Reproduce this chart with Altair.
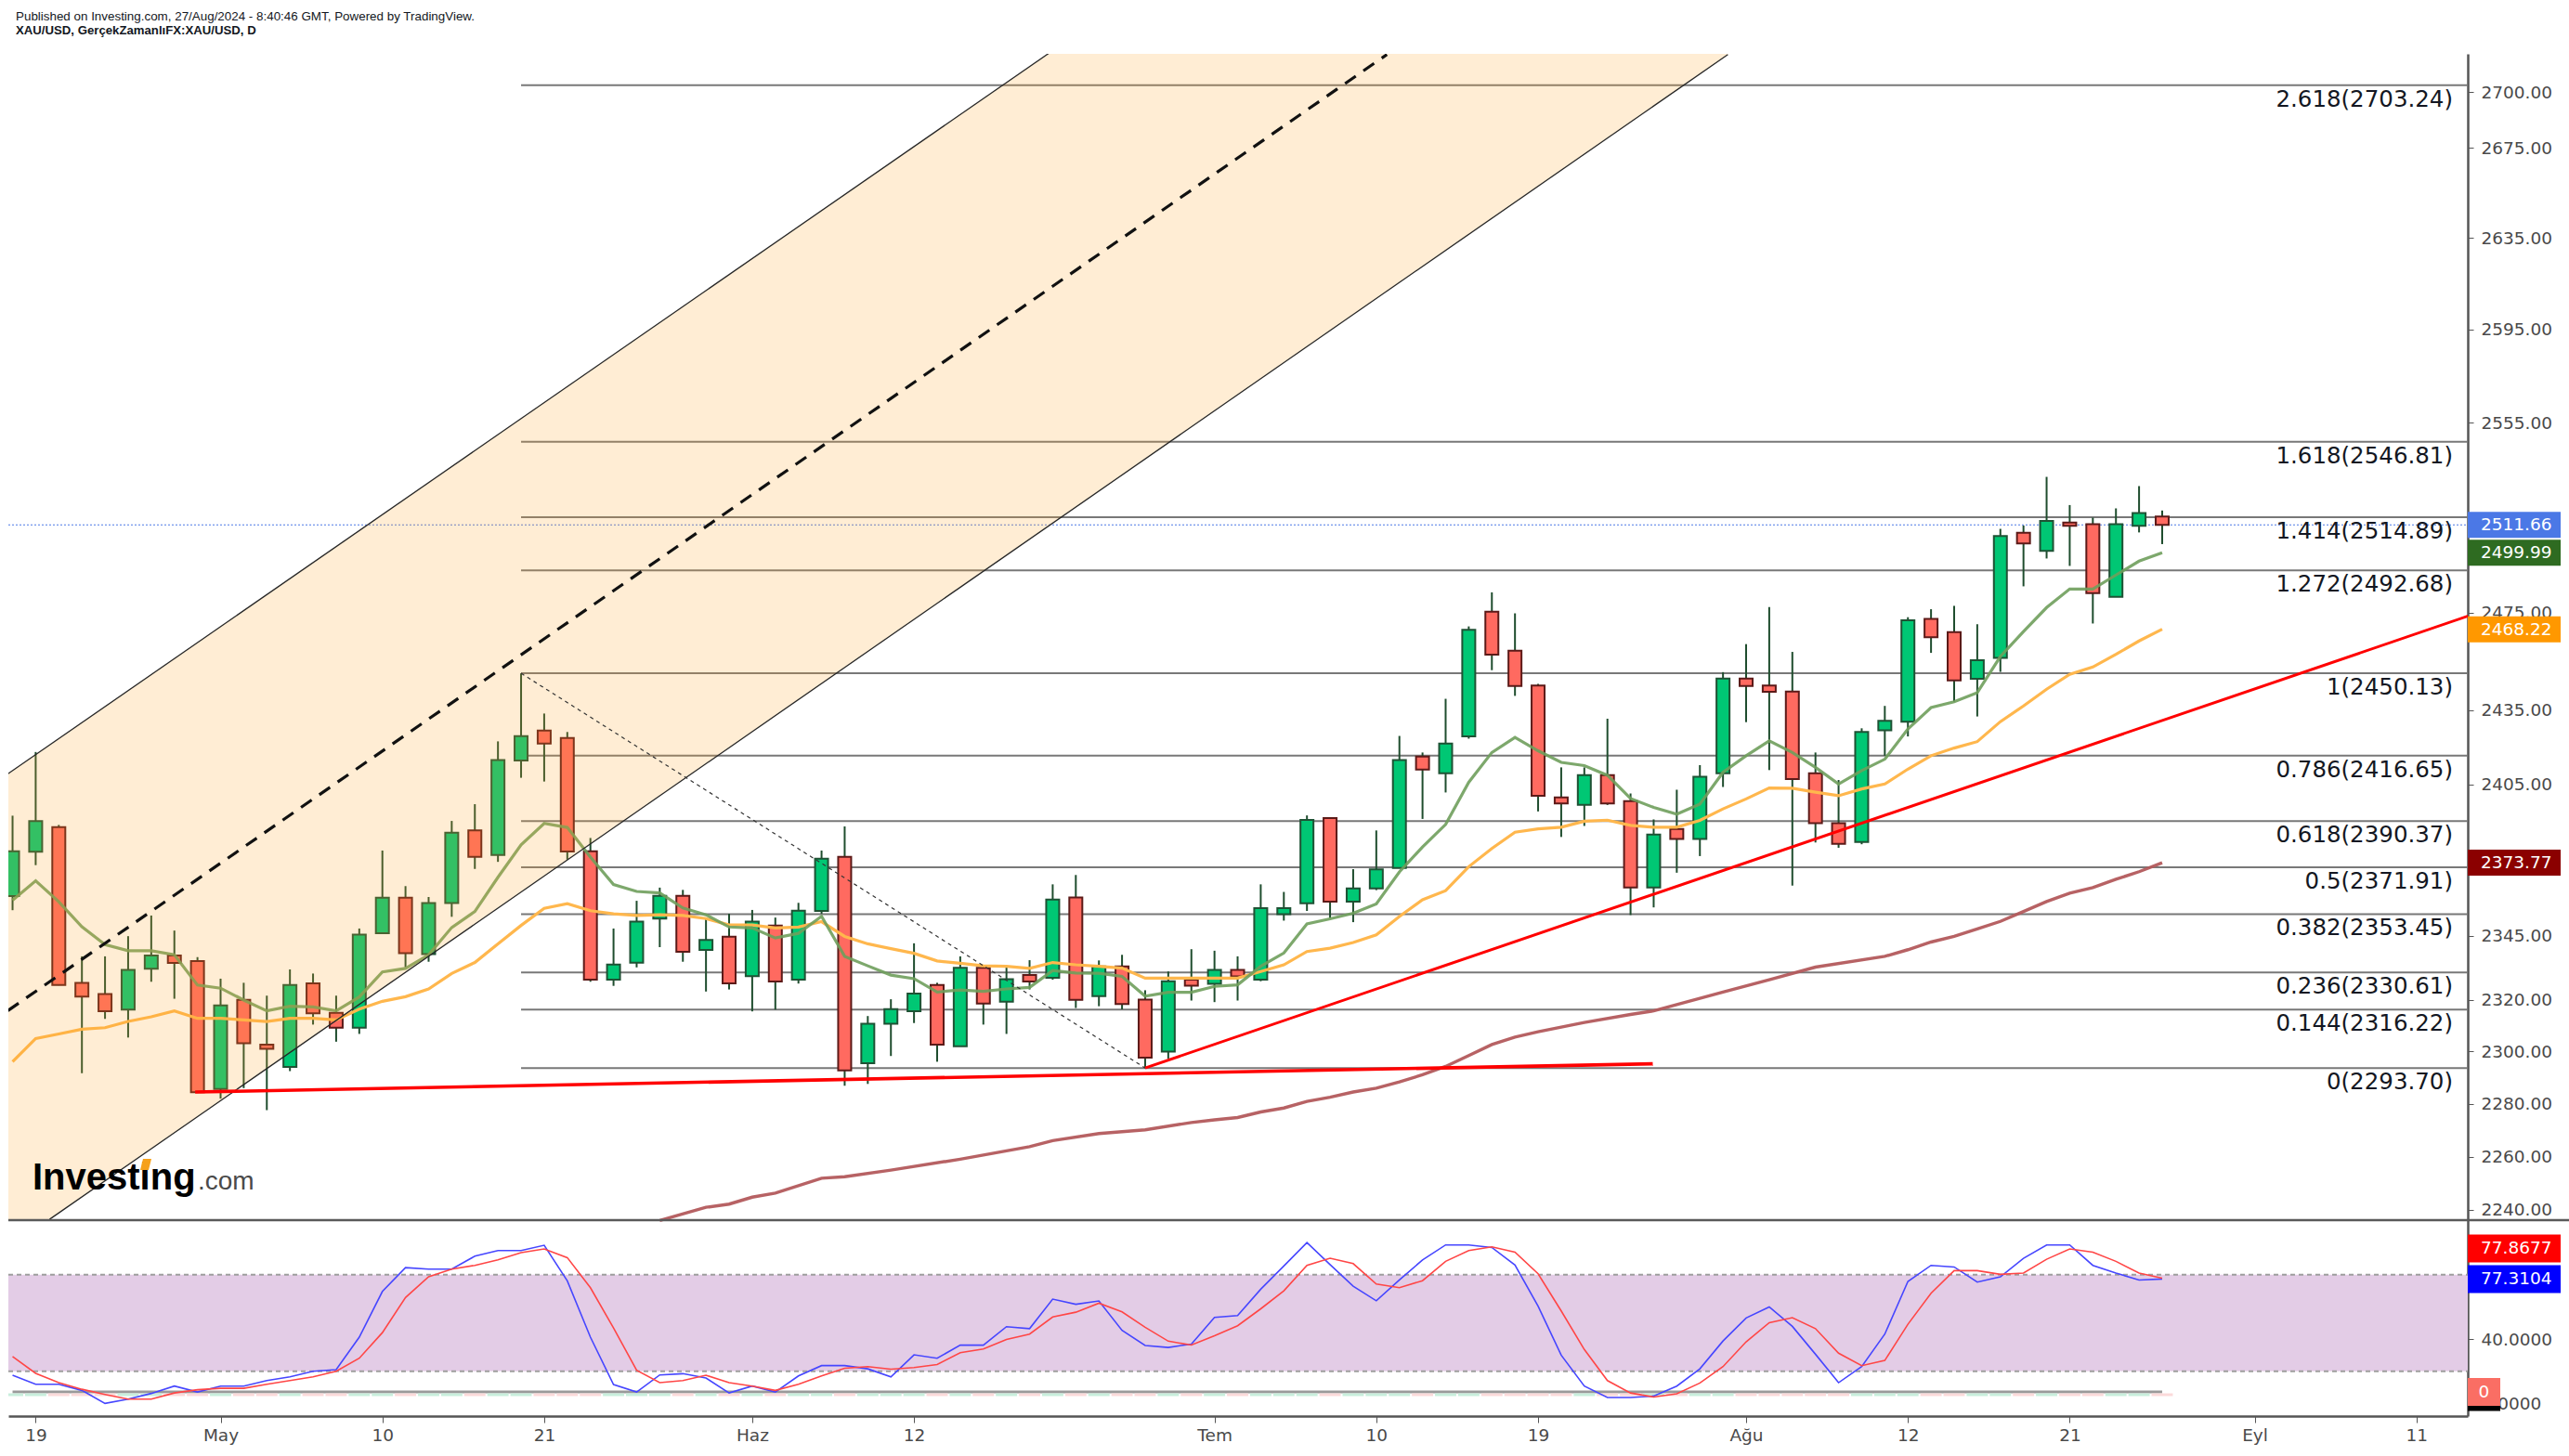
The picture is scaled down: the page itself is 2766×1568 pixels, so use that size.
import json
import altair as alt
import pandas as pd

# ---------------- values ----------------
FIRST_BAR = -1   # bar index 0 = Fri 19 Apr 2024 (daily XAU/USD bars, Mon-Fri)

opens = [2360.6, 2378.1, 2387.9, 2326.6, 2322.2, 2316.2, 2332.1, 2337.2, 2335.1, 2285.7,
         2320.0, 2302.7, 2294.1, 2326.4, 2314.9, 2309.2, 2346.0, 2359.9, 2337.8, 2357.8,
         2386.6, 2376.8, 2414.7, 2426.8, 2423.8, 2378.3, 2327.8, 2334.4, 2351.7, 2360.7,
         2339.4, 2344.6, 2329.2, 2349.0, 2327.8, 2354.7, 2376.1, 2295.5, 2310.7, 2315.6,
         2325.7, 2302.0, 2332.4, 2319.3, 2329.6, 2328.5, 2360.0, 2321.4, 2333.0, 2320.1,
         2300.0, 2327.8, 2326.2, 2331.6, 2327.8, 2353.4, 2357.7, 2391.5, 2358.4, 2363.6,
         2371.7, 2416.3, 2409.5, 2424.4, 2475.5, 2459.4, 2445.1, 2399.8, 2396.8, 2408.8,
         2398.3, 2364.0, 2387.2, 2383.2, 2409.5, 2448.0, 2445.1, 2442.7, 2409.5, 2389.5,
         2382.0, 2426.9, 2430.4, 2472.5, 2467.0, 2447.9, 2456.4, 2508.4, 2500.8, 2512.6,
         2512.0, 2481.6, 2511.3, 2515.2]
highs = [2392.5, 2418.1, 2388.8, 2336.9, 2336.9, 2344.8, 2352.9, 2347.0, 2336.6, 2328.2,
         2326.6, 2321.6, 2331.8, 2330.2, 2321.6, 2347.8, 2378.6, 2364.5, 2360.2, 2390.4,
         2397.1, 2422.4, 2450.1, 2433.7, 2426.2, 2383.6, 2347.8, 2358.7, 2363.9, 2363.0,
         2352.1, 2353.6, 2355.1, 2352.1, 2357.9, 2378.6, 2388.2, 2313.7, 2320.2, 2342.0,
         2326.6, 2336.9, 2333.2, 2333.2, 2335.4, 2365.2, 2368.9, 2335.3, 2337.5, 2323.7,
         2331.0, 2339.7, 2339.1, 2336.9, 2365.2, 2362.2, 2392.6, 2391.5, 2371.2, 2386.6,
         2424.6, 2417.9, 2439.7, 2469.4, 2483.5, 2474.8, 2445.8, 2411.9, 2411.9, 2431.6,
         2401.4, 2391.0, 2402.9, 2412.8, 2450.6, 2462.1, 2477.4, 2458.9, 2417.9, 2406.8,
         2427.7, 2436.8, 2473.2, 2476.5, 2477.9, 2470.3, 2510.0, 2511.4, 2531.9, 2520.0,
         2514.7, 2518.6, 2528.0, 2517.7]
lows = [2355.0, 2372.8, 2325.6, 2291.7, 2312.6, 2305.4, 2327.0, 2320.4, 2284.3, 2282.0,
        2286.0, 2277.6, 2292.5, 2310.4, 2303.8, 2306.8, 2346.0, 2332.6, 2334.8, 2352.4,
        2371.3, 2374.1, 2407.7, 2406.2, 2375.0, 2327.0, 2325.4, 2332.6, 2340.5, 2334.8,
        2323.2, 2324.0, 2315.5, 2316.2, 2326.3, 2353.6, 2286.9, 2287.6, 2298.3, 2311.0,
        2296.1, 2302.0, 2310.4, 2306.8, 2324.0, 2327.8, 2316.8, 2317.5, 2316.3, 2293.7,
        2297.3, 2319.7, 2319.1, 2319.7, 2327.2, 2350.9, 2354.7, 2351.9, 2350.3, 2362.9,
        2371.7, 2391.2, 2401.8, 2423.5, 2451.4, 2440.9, 2394.2, 2384.0, 2388.4, 2396.8,
        2353.1, 2356.1, 2369.8, 2376.4, 2404.0, 2430.2, 2410.8, 2364.7, 2381.8, 2379.7,
        2381.1, 2416.6, 2424.4, 2458.5, 2438.5, 2432.5, 2450.7, 2486.0, 2497.6, 2494.5,
        2470.6, 2481.6, 2508.5, 2503.6]
closes = [2378.3, 2390.3, 2325.7, 2321.2, 2315.6, 2331.6, 2337.2, 2334.3, 2284.4, 2317.8,
          2303.2, 2301.1, 2325.7, 2314.8, 2309.2, 2345.4, 2359.9, 2338.1, 2357.8, 2385.7,
          2376.1, 2414.9, 2424.5, 2421.5, 2378.2, 2327.8, 2333.7, 2350.5, 2360.7, 2338.7,
          2343.3, 2326.4, 2350.5, 2327.1, 2354.8, 2375.4, 2292.8, 2310.7, 2316.4, 2322.4,
          2302.7, 2332.4, 2318.5, 2328.0, 2327.1, 2359.2, 2320.0, 2333.0, 2318.4, 2297.7,
          2327.2, 2325.5, 2331.6, 2329.1, 2355.8, 2355.8, 2390.8, 2358.4, 2363.6, 2371.1,
          2414.9, 2411.0, 2421.5, 2468.0, 2457.8, 2444.9, 2400.5, 2397.4, 2408.8, 2397.4,
          2364.0, 2385.0, 2383.2, 2408.1, 2448.0, 2444.9, 2442.6, 2407.2, 2389.5, 2381.3,
          2426.2, 2430.7, 2471.9, 2464.9, 2447.2, 2455.5, 2507.0, 2503.9, 2513.3, 2511.3,
          2483.2, 2512.0, 2516.6, 2511.66]

ma_fast = [2358.9, 2366.6, 2358.3, 2348.5, 2341.5, 2339.1, 2339.1, 2337.5, 2325.7, 2324.5,
           2319.9, 2315.7, 2317.5, 2317.2, 2315.7, 2321.1, 2330.8, 2332.2, 2337.5, 2348.2,
           2354.5, 2368.0, 2380.9, 2389.4, 2387.8, 2376.0, 2365.1, 2362.4, 2361.8, 2355.9,
           2353.2, 2348.4, 2348.0, 2344.1, 2345.9, 2352.6, 2336.9, 2333.2, 2329.6, 2328.2,
           2323.0, 2323.8, 2323.3, 2324.2, 2324.8, 2331.4, 2330.4, 2330.3, 2329.1, 2321.4,
           2322.9, 2322.9, 2325.2, 2325.8, 2333.0, 2338.2, 2349.6, 2351.6, 2353.8, 2357.5,
           2370.1, 2380.0, 2389.0, 2405.9, 2417.9, 2424.0, 2418.6, 2413.9, 2412.6, 2408.7,
           2399.4, 2395.8, 2393.1, 2397.1, 2409.9, 2416.6, 2422.6, 2417.9, 2411.9, 2405.2,
           2410.6, 2415.2, 2427.4, 2436.1, 2438.5, 2442.2, 2457.0, 2467.3, 2477.2, 2484.9,
           2484.9, 2490.7, 2496.5, 2499.99]
ma_mid = [2296.1, 2305.0, 2306.8, 2308.6, 2309.2, 2311.6, 2313.4, 2315.7, 2312.8, 2312.8,
          2312.2, 2311.6, 2312.8, 2312.8, 2312.2, 2316.4, 2319.4, 2321.2, 2324.2, 2330.2,
          2334.5, 2341.8, 2349.0, 2355.7, 2357.6, 2354.8, 2353.6, 2352.9, 2353.2, 2352.9,
          2351.7, 2349.2, 2349.2, 2348.0, 2348.4, 2350.5, 2344.7, 2341.8, 2339.9, 2338.1,
          2335.1, 2334.2, 2333.2, 2333.0, 2332.2, 2334.5, 2333.6, 2333.0, 2332.3, 2328.4,
          2328.4, 2328.4, 2328.4, 2328.4, 2331.0, 2333.6, 2338.8, 2340.1, 2342.3, 2345.3,
          2352.5, 2359.1, 2362.7, 2372.2, 2379.4, 2385.9, 2387.2, 2387.9, 2390.3, 2390.7,
          2388.6, 2387.9, 2387.9, 2390.6, 2395.2, 2399.2, 2403.6, 2403.5, 2401.9, 2400.5,
          2403.2, 2405.2, 2411.2, 2416.6, 2419.7, 2422.3, 2430.4, 2436.8, 2443.6, 2449.7,
          2452.7, 2457.9, 2463.4, 2468.22]
ma_slow_bar = [27, 29, 30, 31, 32, 34, 35, 37, 40, 43, 44, 46, 48, 50, 51, 52, 53, 54, 55, 56,
               57, 58, 59, 60, 61, 62, 63, 64, 65, 67, 69, 70, 73, 75, 77, 80, 81, 82, 83, 84,
               85, 86, 87, 88, 89, 90, 91, 92]
ma_slow = [2236.0, 2240.9, 2242.1, 2244.7, 2246.2, 2251.8, 2252.4, 2254.9, 2259.0, 2263.7,
           2266.0, 2268.7, 2270.1, 2272.9, 2273.9, 2274.8, 2276.9, 2278.4, 2280.9, 2282.5,
           2284.5, 2286.0, 2288.4, 2291.1, 2294.3, 2298.5, 2302.7, 2305.6, 2307.6, 2311.2,
           2314.3, 2315.7, 2323.0, 2327.8, 2332.7, 2336.9, 2339.5, 2342.5, 2344.7, 2347.6,
           2350.6, 2354.5, 2358.4, 2361.7, 2363.9, 2367.2, 2370.2, 2373.77]

stoch_k = [17.5, 11.9, 11.9, 8.1, 0.0, 2.7, 6.2, 10.8, 7.1, 10.8,
           10.8, 14.2, 16.5, 20.0, 21.0, 41.2, 69.6, 84.4, 83.5, 83.5,
           91.5, 95.0, 95.0, 98.3, 76.2, 41.2, 11.7, 7.1, 17.7, 18.5,
           15.8, 6.5, 10.8, 7.1, 17.1, 23.5, 23.5, 21.5, 16.5, 30.2,
           28.1, 36.2, 36.2, 47.7, 46.5, 64.8, 61.6, 63.7, 45.4, 36.0,
           34.8, 36.9, 53.5, 54.6, 71.0, 85.4, 100.0, 86.3, 72.9, 63.8,
           76.7, 89.2, 98.5, 98.5, 96.9, 86.0, 60.4, 30.0, 10.8, 3.7,
           3.7, 4.6, 10.8, 21.5, 38.8, 53.1, 60.0, 47.9, 30.6, 12.9,
           22.9, 43.1, 75.8, 85.8, 84.8, 75.4, 78.7, 90.2, 98.5, 98.5,
           85.8, 81.0, 76.7, 77.3104]
stoch_d = [29.2, 18.7, 12.9, 8.8, 5.6, 2.7, 2.7, 6.5, 8.5, 9.4,
           9.4, 11.9, 14.2, 16.5, 20.0, 28.1, 44.0, 65.8, 78.7, 83.5,
           85.8, 89.2, 93.7, 96.0, 90.6, 71.9, 46.9, 20.6, 12.9, 14.2,
           17.5, 12.9, 10.8, 8.1, 11.9, 17.1, 21.9, 22.9, 21.3, 22.3,
           24.2, 31.5, 33.8, 39.8, 43.1, 53.7, 56.7, 62.3, 56.9, 47.3,
           38.7, 36.3, 42.1, 48.3, 58.8, 70.0, 85.8, 90.2, 86.9, 74.2,
           71.9, 76.3, 88.3, 95.0, 97.3, 94.0, 80.6, 57.5, 33.5, 14.2,
           6.5, 4.0, 6.0, 12.7, 22.9, 38.3, 50.2, 53.3, 46.5, 31.2,
           23.5, 26.7, 49.2, 68.5, 82.5, 82.5, 80.2, 81.0, 89.6, 96.0,
           94.0, 88.3, 81.0, 77.8677]

fib_ratio = ["2.618", "1.618", "1.414", "1.272", "1", "0.786", "0.618", "0.5",
             "0.382", "0.236", "0.144", "0"]
fib_price = [2703.24, 2546.81, 2514.89, 2492.68, 2450.13, 2416.65, 2390.37, 2371.91,
             2353.45, 2330.61, 2316.22, 2293.70]
fib_start_bar = 21

price_ticks = [2700, 2675, 2635, 2595, 2555, 2475, 2435, 2405, 2345, 2320, 2300, 2280, 2260, 2240]
stoch_ticks = [0, 40]
stoch_bands = [80, 20]
x_tick_bar = [0, 8, 15, 22, 31, 38, 51, 58, 65, 74, 81, 88, 96, 103]
x_tick_text = ["19", "May", "10", "21", "Haz", "12", "Tem", "10", "19", "Ağu", "12", "21", "Eyl", "11"]

last_price = 2511.66
badge_val = [2511.66, 2499.99, 2468.22, 2373.77]
badge_color = ["#4b78e6", "#2e6b21", "#ff9800", "#8b0000"]
stoch_badge_val = [77.8677, 77.3104]
stoch_badge_color = ["#ff0000", "#0000ff"]
ind_badge_text = ["0"]

# drawings (anchor points: bar index, price)
channel_bar = [-1.2, 0.6, 73.21]
channel_upper = [2409.3, 2420.9, 2939.8]
channel_lower = [2236.1, 2236.4, 2717.1]
channel_mid_bar = [-1.2, 58.46]
channel_mid = [2315.8, 2717.1]
fib_anchor_bar = [21, 48]
fib_anchor_price = [2450.13, 2293.70]
support_bar = [6.9, 69.96]
support_price = [2284.5, 2295.3]
trend_bar = [48, 106]
trend_price = [2293.7, 2476.2]

header_1 = "Published on Investing.com, 27/Aug/2024 - 8:40:46 GMT, Powered by TradingView."
header_2 = "XAU/USD, GerçekZamanlıFX:XAU/USD, D"

# ---------------- layout / style ----------------
W, H, PH = 2648, 1467, 1256
FONT = "DejaVu Sans"
GREEN, GREEN_EDGE = "#00c774", "#1e5234"
RED, RED_EDGE = "#ff6a60", "#5c1a18"
WICK = "#1f4d2e"

XS = alt.Scale(domain=[-0.981, 105.02], nice=False, zero=False)
PS = alt.Scale(type="log", domain=[2236.1, 2717.4], range=[PH, 0], nice=False, zero=False)
SS = alt.Scale(domain=[-7.85, 113.9], range=[H, PH], nice=False, zero=False)

names = json.dumps(x_tick_text, ensure_ascii=False)
poss = json.dumps(x_tick_bar)
X_AXIS = alt.Axis(orient="bottom", values=x_tick_bar, labelExpr=f"{names}[indexof({poss}, datum.value)]",
                  grid=False, domainColor="#555555", domainWidth=2.5, tickColor="#555555", tickSize=7,
                  labelFont=FONT, labelFontSize=18.5, labelColor="#4a4a4a", labelPadding=4,
                  title=None, labelFlush=False, labelOverlap=False)
price_axis = alt.Axis(orient="right", values=price_ticks, format=".2f", grid=False,
                      domainColor="#555555", domainWidth=2.5, tickColor="#555555", tickSize=6,
                      labelFont=FONT, labelFontSize=18.5, labelColor="#4a4a4a", labelPadding=8,
                      title=None, labelOverlap=False, labelFlush=False)
stoch_axis = alt.Axis(orient="right", values=stoch_ticks, format=".4f", grid=False,
                      domainColor="#555555", domainWidth=2.5, tickColor="#555555", tickSize=6,
                      labelFont=FONT, labelFontSize=18.5, labelColor="#4a4a4a", labelPadding=8,
                      title=None, labelOverlap=False, labelFlush=False)


def X(f):
    return alt.X(f, type="quantitative", scale=XS, axis=X_AXIS)


def YP(f, axis=None):
    return alt.Y(f, type="quantitative", scale=PS, axis=axis, stack=None)


def YS(f, axis=None):
    return alt.Y(f, type="quantitative", scale=SS, axis=axis, stack=None)


n = len(opens)
bars = list(range(FIRST_BAR, FIRST_BAR + n))
cdf = pd.DataFrame({"idx": bars, "o": opens, "h": highs, "l": lows, "c": closes,
                    "maf": ma_fast, "mam": ma_mid, "sk": stoch_k, "sd": stoch_d})
up = [c >= o for o, c in zip(opens, closes)]
cdf["fillc"] = [GREEN if u else RED for u in up]
cdf["edgec"] = [GREEN_EDGE if u else RED_EDGE for u in up]
cdf["stripc"] = ["#c8eedc" if u else "#fbdada" for u in up]
cdf["x0"] = cdf["idx"] - 0.46
cdf["x1"] = cdf["idx"] + 0.46

slow_df = pd.DataFrame({"idx": ma_slow_bar, "v": ma_slow})
fib_df = pd.DataFrame({"start": [fib_start_bar] * len(fib_price), "p": fib_price,
                       "lbl": [f"{r}({p:.2f})" for r, p in zip(fib_ratio, fib_price)]})
chan_df = pd.DataFrame({"idx": channel_bar, "up": channel_upper, "lo": channel_lower})
upper_df = pd.DataFrame({"idx": [channel_bar[0], channel_bar[-1]],
                         "p": [channel_upper[0], channel_upper[-1]]})
lower_df = pd.DataFrame({"idx": channel_bar[1:], "p": channel_lower[1:]})
mid_df = pd.DataFrame({"idx": channel_mid_bar, "p": channel_mid})
anchor_df = pd.DataFrame({"idx": fib_anchor_bar, "p": fib_anchor_price})
support_df = pd.DataFrame({"idx": support_bar, "p": support_price})
trend_df = pd.DataFrame({"idx": trend_bar, "p": trend_price})
badge_df = pd.DataFrame({"v": badge_val, "col": badge_color, "lbl": [f"{v:.2f}" for v in badge_val]})
sbadge_df = pd.DataFrame({"v": stoch_badge_val, "col": stoch_badge_color,
                          "lbl": [f"{v:.4f}" for v in stoch_badge_val]})
IND_LEVEL = 7.15  # position of the zero-valued overlay indicator inside the oscillator pane

one = pd.DataFrame({"a": [0]})

# ---------------- oscillator pane ----------------
band = alt.Chart(pd.DataFrame({"a": [stoch_bands[0]], "b": [stoch_bands[1]]})).mark_rect(
    color="#e3cce6").encode(x=alt.value(0), x2=alt.value(W), y=YS("a"), y2="b:Q")
band_lines = alt.Chart(pd.DataFrame({"lvl": stoch_bands})).mark_rule(
    color="#9e9e9e", strokeWidth=2, strokeDash=[5, 4]).encode(x=alt.value(0), x2=alt.value(W), y=YS("lvl"))
ind_line = alt.Chart(pd.DataFrame({"idx": [bars[0], bars[-1]], "v": [IND_LEVEL, IND_LEVEL]})).mark_line(
    color="#9a9a9a", strokeWidth=3, clip=True).encode(x=X("idx"), y=YS("v"))
strips = alt.Chart(cdf).mark_rect(clip=True).encode(
    x=X("x0"), x2="x1:Q", y=alt.value(PH + 186.5), y2=alt.value(PH + 189.5),
    fill=alt.Fill("stripc:N", scale=None))
k_line = alt.Chart(cdf).mark_line(color="#4646ff", strokeWidth=1.6, clip=True).encode(
    x=X("idx"), y=YS("sk", stoch_axis))
d_line = alt.Chart(cdf).mark_line(color="#ff4646", strokeWidth=1.6, clip=True).encode(
    x=X("idx"), y=YS("sd"))

# ---------------- price pane ----------------
fib_lines = alt.Chart(fib_df).mark_rule(color="#787878", strokeWidth=2).encode(
    x=X("start"), x2=alt.value(W), y=YP("p", price_axis))
last_line = alt.Chart(pd.DataFrame({"p": [last_price]})).mark_rule(
    color="#4b78e6", strokeWidth=1.2, strokeDash=[2, 2]).encode(x=alt.value(0), x2=alt.value(W), y=YP("p"))
slow_line = alt.Chart(slow_df).mark_line(color="#b35a5c", strokeWidth=3.4, opacity=0.95, clip=True).encode(
    x=X("idx"), y=YP("v"))
wicks = alt.Chart(cdf).mark_rule(color=WICK, strokeWidth=2, clip=True).encode(
    x=X("idx"), y=YP("l"), y2="h:Q")
bodies = alt.Chart(cdf).mark_bar(size=14, strokeWidth=2, clip=True).encode(
    x=X("idx"), y=YP("o"), y2="c:Q",
    fill=alt.Fill("fillc:N", scale=None), stroke=alt.Stroke("edgec:N", scale=None))
mid_ma = alt.Chart(cdf).mark_line(color="#ffb74d", strokeWidth=3.2, clip=True).encode(
    x=X("idx"), y=YP("mam"))
fast_ma = alt.Chart(cdf).mark_line(color="#6f9e5c", strokeWidth=3.2, opacity=0.9, clip=True).encode(
    x=X("idx"), y=YP("maf"))
peach = alt.Chart(chan_df).mark_area(color="#ffa726", opacity=0.2, clip=True).encode(
    x=X("idx"), y=YP("up"), y2="lo:Q")
upper_l = alt.Chart(upper_df).mark_line(color="#262626", strokeWidth=1.3, clip=True).encode(
    x=X("idx"), y=YP("p"))
lower_l = alt.Chart(lower_df).mark_line(color="#262626", strokeWidth=1.3, clip=True).encode(
    x=X("idx"), y=YP("p"))
mid_l = alt.Chart(mid_df).mark_line(color="#111111", strokeWidth=3.2, strokeDash=[14, 10], clip=True).encode(
    x=X("idx"), y=YP("p"))
anchor_l = alt.Chart(anchor_df).mark_line(color="#333333", strokeWidth=1.2, strokeDash=[4, 4], clip=True).encode(
    x=X("idx"), y=YP("p"))
support_l = alt.Chart(support_df).mark_line(color="#ff0000", strokeWidth=3.6, clip=True).encode(
    x=X("idx"), y=YP("p"))
trend_l = alt.Chart(trend_df).mark_line(color="#ff0000", strokeWidth=3, clip=True).encode(
    x=X("idx"), y=YP("p"))
fib_text = alt.Chart(fib_df).mark_text(align="right", baseline="middle", dy=16, font=FONT,
                                       fontSize=24.5, color="#131722").encode(
    x=alt.value(2632), y=YP("p"), text="lbl:N")

# separator between the panes
sep = alt.Chart(one).mark_rule(color="#5a5a5a", strokeWidth=2.5).encode(
    x=alt.value(0), x2=alt.value(W + 110), y=alt.value(PH))

# logo & header
logo1 = alt.Chart(pd.DataFrame({"t": ["Investing"]})).mark_text(
    align="left", baseline="alphabetic", font="Liberation Sans", fontWeight="bold", fontSize=40,
    color="#000000").encode(x=alt.value(26), y=alt.value(1223), text="t:N")
logo2 = alt.Chart(pd.DataFrame({"t": [".com"]})).mark_text(
    align="left", baseline="alphabetic", font="Liberation Sans", fontSize=28,
    color="#4a4a4a").encode(x=alt.value(204), y=alt.value(1223), text="t:N")
logo_dot = alt.Chart(one).mark_point(shape="M-0.5,-1L1,-1L0.5,1L-1,1Z", size=144, filled=True,
                                     opacity=1, color="#f6a11a").encode(x=alt.value(148), y=alt.value(1196))
head1 = alt.Chart(pd.DataFrame({"t": [header_1]})).mark_text(
    align="left", baseline="alphabetic", font="Liberation Sans", fontSize=13.4,
    color="#131722").encode(x=alt.value(8), y=alt.value(-36.3), text="t:N")
head2 = alt.Chart(pd.DataFrame({"t": [header_2]})).mark_text(
    align="left", baseline="alphabetic", font="Liberation Sans", fontWeight="bold", fontSize=13.2,
    color="#131722").encode(x=alt.value(8), y=alt.value(-20.7), text="t:N")

# price badges
BADGE = "M-1,-0.28L1,-0.28L1,0.28L-1,0.28Z"
badges = alt.Chart(badge_df).mark_point(shape=BADGE, size=10000, filled=True, opacity=1, strokeWidth=0).encode(
    x=alt.value(W + 50), y=YP("v"), fill=alt.Fill("col:N", scale=None))
badge_txt = alt.Chart(badge_df).mark_text(align="left", baseline="middle", font=FONT, fontSize=18.5,
                                          color="white").encode(x=alt.value(W + 14), y=YP("v"), text="lbl:N")

SB = "M-1,-0.3L1,-0.3L1,0.3L-1,0.3Z"
sb_red = alt.Chart(sbadge_df.iloc[[0]]).mark_point(shape=SB, size=10000, filled=True, opacity=1,
                                                   strokeWidth=0, yOffset=-32).encode(
    x=alt.value(W + 50), y=YS("v"), fill=alt.Fill("col:N", scale=None))
sb_red_t = alt.Chart(sbadge_df.iloc[[0]]).mark_text(align="left", baseline="middle", font=FONT, fontSize=18.5,
                                                    color="white", dy=-32).encode(
    x=alt.value(W + 14), y=YS("v"), text="lbl:N")
sb_blue = alt.Chart(sbadge_df.iloc[[1]]).mark_point(shape=SB, size=10000, filled=True, opacity=1,
                                                    strokeWidth=0).encode(
    x=alt.value(W + 50), y=YS("v"), fill=alt.Fill("col:N", scale=None))
sb_blue_t = alt.Chart(sbadge_df.iloc[[1]]).mark_text(align="left", baseline="middle", font=FONT, fontSize=18.5,
                                                     color="white").encode(
    x=alt.value(W + 14), y=YS("v"), text="lbl:N")
ind_df = pd.DataFrame({"v": [IND_LEVEL], "lbl": ind_badge_text})
ind_black = alt.Chart(ind_df).mark_point(shape="M-1,0.857L1,0.857L1,1.17L-1,1.17Z", size=1225, filled=True,
                                         opacity=1, strokeWidth=0, color="#000000").encode(
    x=alt.value(W + 17.5), y=YS("v"))
ind_badge = alt.Chart(ind_df).mark_point(shape="M-1,-0.857L1,-0.857L1,0.857L-1,0.857Z", size=1225, filled=True,
                                         opacity=1, strokeWidth=0, color="#fa6e64").encode(
    x=alt.value(W + 17.5), y=YS("v"))
ind_badge_t = alt.Chart(ind_df).mark_text(align="center", baseline="middle", font=FONT, fontSize=18.5,
                                          color="white").encode(x=alt.value(W + 17.5), y=YS("v"), text="lbl:N")

chart = alt.layer(
    band, band_lines, ind_line, strips, k_line, d_line,
    fib_lines, last_line, slow_line, wicks, bodies, mid_ma, fast_ma,
    peach, upper_l, lower_l, mid_l, anchor_l, support_l, trend_l, fib_text,
    logo1, logo2, logo_dot, head1, head2, sep,
    badges, badge_txt, sb_red, sb_red_t, sb_blue, sb_blue_t, ind_black, ind_badge, ind_badge_t,
).resolve_scale(y="independent").properties(
    width=W, height=H,
    padding={"left": 9, "top": 58, "right": 109, "bottom": 43},
    autosize=alt.AutoSizeParams(type="none"),
    background="white",
).configure_view(stroke=None)

chart.save("out.html", embed_options={"renderer": "svg", "actions": False})
